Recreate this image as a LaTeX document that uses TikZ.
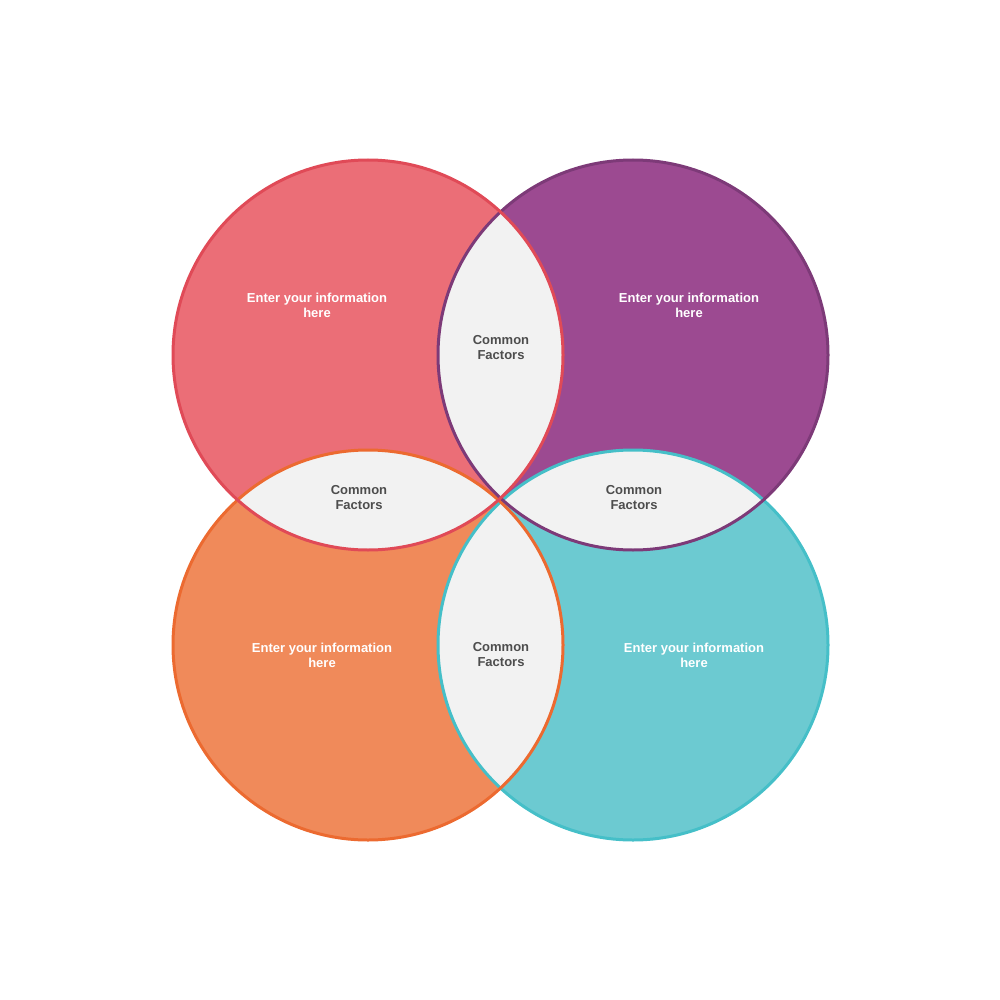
\documentclass[tikz,border=0pt]{standalone}
\usepackage{fontspec}
\setmainfont{Liberation Sans}
\definecolor{redfill}{HTML}{EB6E77}\definecolor{redline}{HTML}{E04A57}
\definecolor{purfill}{HTML}{9C4A91}\definecolor{purline}{HTML}{7D3A78}
\definecolor{orafill}{HTML}{F08A5A}\definecolor{oraline}{HTML}{EC6A30}
\definecolor{teafill}{HTML}{6CCAD1}\definecolor{tealine}{HTML}{45BFC8}
\definecolor{lensgray}{HTML}{F2F2F2}\definecolor{labelgray}{HTML}{4D4D4D}
\tikzset{
  infotext/.style={text=white,font=\bfseries\fontsize{13}{15}\selectfont,align=center},
  commontext/.style={text=labelgray,font=\bfseries\fontsize{13}{15}\selectfont,align=center},
  ring/.style={line width=3pt}
}
\begin{document}
\begin{tikzpicture}[x=1pt,y=-1pt]
  \useasboundingbox (0,0) rectangle (1000,1000);
  % circle centres
  \coordinate (tl) at (368,355);
  \coordinate (tr) at (633,355);
  \coordinate (bl) at (368,645);
  \coordinate (br) at (633,645);
  \def\rad{195}

  % fills
  \fill[redfill] (tl) circle (\rad);
  \fill[purfill] (tr) circle (\rad);
  \fill[orafill] (bl) circle (\rad);
  \fill[teafill] (br) circle (\rad);

  % lenses
  \foreach \a/\b in {tl/tr,tl/bl,tr/br,bl/br}{
    \begin{scope}
      \clip (\a) circle (\rad);
      \fill[lensgray] (\b) circle (\rad);
    \end{scope}
  }

  % borders
  \draw[ring,tealine] (br) circle (\rad);
  \draw[ring,oraline] (bl) circle (\rad);
  \draw[ring,purline] (tr) circle (\rad);
  \draw[ring,redline] (tl) circle (\rad);

  % labels
  \node[infotext] (infotl) at (317,305) {Enter your information\\here};
  \node[infotext] (infotr) at (689,305) {Enter your information\\here};
  \node[infotext] (infobl) at (322,655) {Enter your information\\here};
  \node[infotext] (infobr) at (694,655) {Enter your information\\here};
  \node[commontext] (ctop) at (501,348) {Common\\Factors};
  \node[commontext] (cleft) at (359,498) {Common\\Factors};
  \node[commontext] (cright) at (634,498) {Common\\Factors};
  \node[commontext] (cbottom) at (501,655) {Common\\Factors};
\end{tikzpicture}
\end{document}
